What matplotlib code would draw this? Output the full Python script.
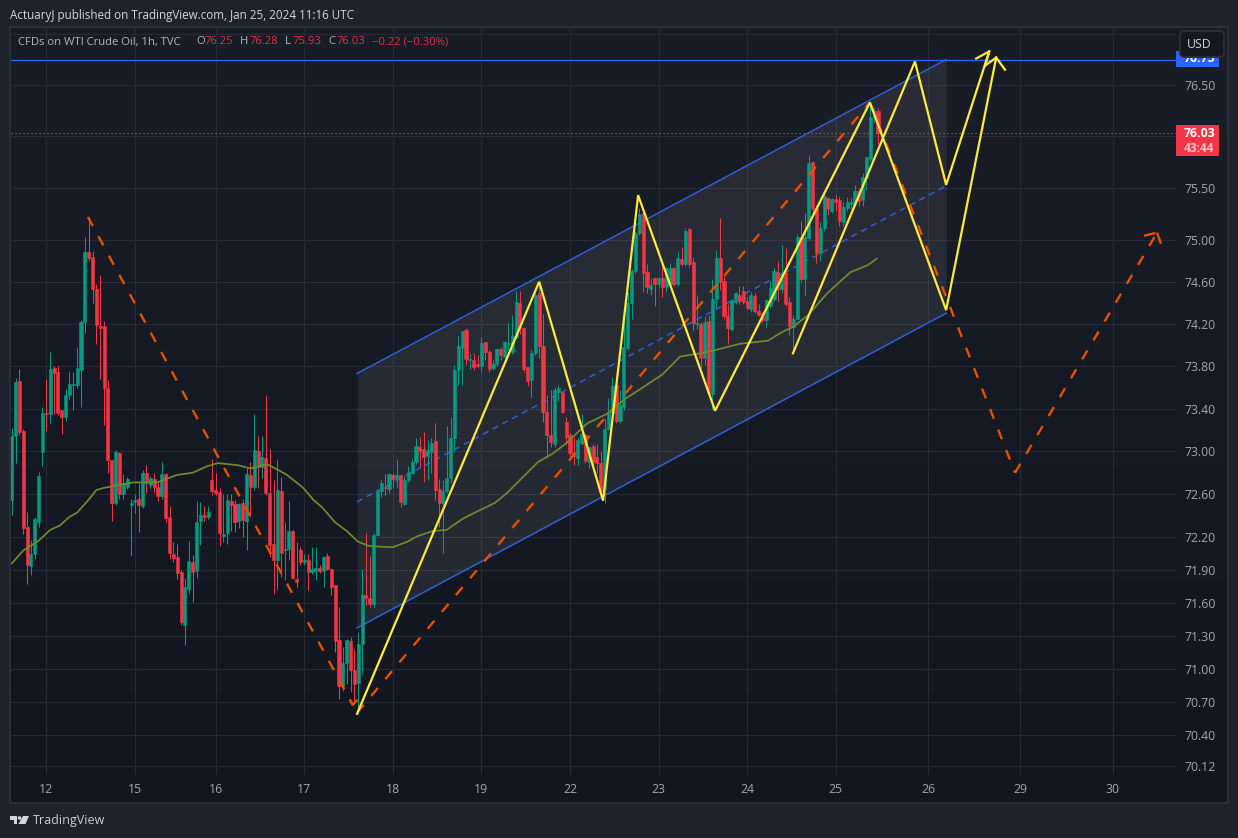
import numpy as np
import matplotlib
matplotlib.use("Agg")
import matplotlib.pyplot as plt
from matplotlib.patches import FancyBboxPatch, Rectangle, Polygon, Circle

W, H = 1238, 838
FONT = ["Open Sans", "DejaVu Sans"]
plt.rcParams["font.family"] = FONT

direction = ("GGRRRGGGGR" "GRRRGGGGGG" "RRRRRRRGRG" "GGGRGRGRRG" "RRRRRGGRGG"
             "RGRRRGGRRG" "RGRGRGRRRG" "RGGRRRGRGG" "RGRRRRGGRR" "GGRRGGGRGR"
             "GRGGGGRRGG" "RRGGGGGGRG" "RRGRRGGRGG" "GGRRRGGRRR" "RGGRRRRGGR"
             "GRRRGGGRGG" "GGGGRRGRGR" "GGRGRGRRGR" "GRGGRRRGGR" "RRGRRRGGGR"
             "GRRGGRGGRR" "GGRGRRGGGG" "RGGGGR")

highs = [
 73.22,73.69,73.77,73.21,72.44,72.18,72.39,72.81,73.41,73.68,
 73.93,73.80,73.80,73.39,73.58,73.75,73.74,73.98,74.24,75.03,
 75.22,74.89,74.58,74.66,74.23,73.67,72.92,73.01,72.99,72.79,
 72.76,72.56,72.60,72.70,72.83,72.87,72.77,72.80,72.71,72.90,
 72.80,72.49,72.16,72.14,71.90,71.83,72.17,72.04,72.54,72.53,
 72.49,72.49,72.93,72.80,72.66,72.60,72.60,72.60,72.55,72.52,
 72.56,72.84,72.90,73.35,73.14,73.14,73.53,73.02,72.73,72.93,
 72.76,72.34,72.54,72.27,72.16,72.11,72.05,72.05,72.11,72.11,
 71.95,72.03,72.06,71.92,71.76,71.56,71.20,71.27,71.29,71.18,
 71.33,71.91,72.24,72.03,72.24,72.65,72.73,72.79,72.80,72.80,
 72.93,72.78,72.77,72.86,72.93,73.12,73.13,73.18,73.11,73.12,
 73.26,72.74,72.73,73.24,73.32,73.81,74.08,74.13,74.16,73.91,
 73.92,73.90,74.07,74.03,73.95,73.86,73.97,73.98,74.04,74.21,
 74.28,74.51,74.51,74.17,73.79,73.95,74.49,74.58,74.29,73.53,
 73.57,73.60,73.62,73.56,73.32,73.17,73.13,73.12,73.35,73.17,
 73.04,73.07,73.07,72.99,73.30,73.50,73.70,73.64,73.57,74.28,
 74.50,74.72,75.09,75.31,75.28,74.77,74.64,74.64,74.64,74.75,
 74.74,74.78,74.74,74.88,74.93,75.11,75.11,74.83,74.47,74.22,
 74.27,74.28,74.63,74.90,75.21,74.65,74.39,74.44,74.50,74.56,
 74.56,74.45,74.50,74.49,74.39,74.31,74.44,74.61,74.73,74.80,
 74.95,74.92,74.45,74.28,75.06,75.18,75.26,75.82,75.76,75.34,
 75.17,75.45,75.41,75.40,75.43,75.41,75.36,75.41,75.40,75.53,
 75.50,75.64,75.80,76.33,76.28,76.28]
body_tops = [
 73.14,73.65,73.66,73.19,72.30,72.05,72.37,72.77,73.36,73.36,
 73.77,73.78,73.74,73.39,73.53,73.63,73.63,73.78,74.22,74.88,
 74.88,74.84,74.53,74.18,74.18,73.59,72.92,72.99,72.98,72.70,
 72.74,72.52,72.55,72.56,72.80,72.80,72.75,72.74,72.67,72.79,
 72.79,72.39,72.05,72.02,71.88,71.74,71.98,71.97,72.34,72.41,
 72.41,72.44,72.73,72.64,72.62,72.23,72.55,72.54,72.51,72.51,
 72.52,72.79,72.78,73.01,73.00,72.95,72.94,72.61,72.14,72.64,
 72.63,72.09,72.26,72.26,71.82,72.08,71.99,71.99,71.91,71.92,
 71.92,72.02,72.03,71.91,71.76,71.26,71.05,71.26,71.25,70.99,
 71.22,71.67,71.67,71.64,72.22,72.63,72.70,72.67,72.79,72.78,
 72.78,72.78,72.73,72.81,72.90,73.05,73.04,73.02,73.01,73.08,
 73.10,72.65,72.63,72.75,73.12,73.76,73.99,74.13,74.14,73.87,
 73.86,73.82,74.02,74.03,73.93,73.82,73.96,73.96,74.03,74.02,
 74.08,74.41,74.40,74.16,73.79,73.92,74.47,74.49,73.99,73.37,
 73.15,73.57,73.59,73.56,73.27,73.15,72.98,73.11,73.16,73.15,
 73.04,73.05,72.95,72.89,73.21,73.37,73.61,73.62,73.43,73.98,
 74.40,74.70,75.07,75.25,75.26,74.69,74.57,74.64,74.64,74.64,
 74.73,74.73,74.73,74.83,74.82,75.09,75.10,74.79,74.21,74.20,
 74.22,74.23,74.44,74.83,74.83,74.61,74.27,74.43,74.49,74.47,
 74.51,74.42,74.47,74.46,74.32,74.30,74.43,74.54,74.70,74.69,
 74.68,74.68,74.41,74.25,75.03,75.03,75.03,75.74,75.75,75.31,
 75.11,75.42,75.40,75.39,75.39,75.38,75.32,75.36,75.36,75.47,
 75.47,75.61,75.80,76.19,76.25,76.25]
body_bottoms = [
 72.55,73.14,73.18,72.29,71.95,71.94,72.05,72.34,72.99,73.35,
 73.35,73.73,73.36,73.32,73.32,73.53,73.62,73.62,73.76,74.22,
 74.83,74.53,74.19,74.16,73.59,72.92,72.52,72.52,72.60,72.60,
 72.67,72.50,72.53,72.50,72.49,72.70,72.69,72.67,72.58,72.58,
 72.38,72.06,72.01,71.87,71.42,71.40,71.73,71.88,71.89,72.35,
 72.39,72.39,72.63,72.61,72.24,72.21,72.24,72.50,72.34,72.35,
 72.36,72.35,72.67,72.67,72.85,72.85,72.61,72.13,71.99,71.99,
 72.06,72.08,72.09,71.83,71.79,71.97,71.97,71.88,71.88,71.89,
 71.89,71.89,71.91,71.74,71.25,70.84,70.84,71.05,70.99,70.86,
 70.87,71.22,71.64,71.59,71.59,72.22,72.63,72.66,72.65,72.74,
 72.74,72.53,72.51,72.73,72.80,72.90,73.00,72.95,72.96,72.99,
 72.64,72.52,72.52,72.63,72.75,73.12,73.76,73.97,73.87,73.86,
 73.79,73.80,73.80,73.93,73.77,73.78,73.82,73.90,73.89,74.01,
 73.93,74.07,74.16,73.77,73.66,73.67,73.92,73.99,73.37,73.15,
 73.09,73.07,73.56,73.37,73.13,72.98,72.96,72.94,73.08,72.91,
 72.90,72.90,72.89,72.62,72.65,73.21,73.36,73.28,73.28,73.41,
 73.97,74.40,74.70,75.07,74.68,74.55,74.53,74.58,74.58,74.55,
 74.55,74.58,74.58,74.58,74.77,74.77,74.77,74.21,74.20,73.88,
 73.88,73.55,73.54,74.44,74.60,74.27,74.16,74.15,74.41,74.42,
 74.41,74.35,74.34,74.32,74.28,74.24,74.24,74.37,74.44,74.53,
 74.53,74.39,74.18,74.17,74.25,74.63,74.63,75.02,75.30,74.87,
 74.87,75.11,75.30,75.28,75.36,75.18,75.17,75.31,75.35,75.35,
 75.37,75.38,75.60,75.78,76.19,76.03]
lows = [
 72.41,72.89,73.15,72.23,71.77,71.85,72.00,72.30,72.86,73.19,
 73.26,73.35,73.34,73.16,73.28,73.48,73.39,73.59,73.41,74.11,
 74.80,74.40,74.01,73.68,73.25,72.80,72.35,72.50,72.56,72.56,
 72.65,72.03,72.43,72.25,72.47,72.61,72.66,72.62,72.54,72.56,
 72.34,72.00,71.97,71.82,71.40,71.21,71.69,71.61,71.83,72.13,
 72.35,72.37,72.59,72.59,72.12,72.16,72.14,72.26,72.25,72.29,
 72.20,72.08,72.39,72.64,72.66,72.75,72.59,72.02,71.68,71.72,
 71.84,71.81,71.99,71.82,71.74,71.95,71.95,71.72,71.86,71.81,
 71.87,71.74,71.90,71.67,71.15,70.72,70.80,70.86,70.79,70.70,
 70.60,70.95,71.58,71.56,71.56,72.21,72.57,72.59,72.61,72.66,
 72.66,72.48,72.50,72.71,72.79,72.88,72.85,72.71,72.73,72.80,
 72.55,72.30,72.06,72.61,72.70,72.99,73.62,73.62,73.81,73.77,
 73.76,73.78,73.74,73.86,73.74,73.76,73.80,73.86,73.83,73.95,
 73.91,74.06,74.10,73.74,73.61,73.50,73.90,73.88,73.27,72.95,
 73.04,73.04,73.47,73.36,73.07,72.94,72.87,72.87,73.06,72.89,
 72.84,72.82,72.80,72.60,72.52,73.20,73.34,73.26,73.26,73.39,
 73.95,74.25,74.68,75.05,74.50,74.49,74.47,74.37,74.54,74.45,
 74.50,74.56,74.56,74.56,74.75,74.75,74.74,74.14,74.15,73.78,
 73.81,73.53,73.39,74.35,74.52,74.25,74.01,74.13,74.39,74.39,
 74.39,74.34,74.31,74.30,74.27,74.21,74.17,74.35,74.42,74.42,
 74.49,74.37,74.09,73.92,74.24,74.60,74.46,75.00,75.24,74.78,
 74.80,75.09,75.24,75.26,75.28,75.13,75.13,75.28,75.30,75.33,
 75.33,75.33,75.48,75.76,76.14,75.93]

ma_bars = [0,3,7,10,12.5,15,17,20,22,24,25.5,31.5,37.7,43,47,50.7,53.6,58.8,62,66.3,69,71.5,75.7,
           78.3,80.6,84,87,90,93,99,102.7,105.3,109.4,113,117,120.3,125.5,128.6,132.8,136.7,140.6,
           144.2,149.4,154.6,159.3,162.7,169,173.6,178.8,182.7,189,196.4,200,202.9,206.8,211.8,
           217.8,222.4,224.7]
ma_values = [71.96,72.08,72.17,72.27,72.31,72.39,72.43,72.55,72.64,72.66,72.67,72.71,72.71,72.78,72.80,
             72.86,72.89,72.87,72.84,72.88,72.83,72.78,72.66,72.55,72.48,72.34,72.26,72.16,72.12,72.11,
             72.16,72.21,72.26,72.27,72.37,72.43,72.52,72.61,72.76,72.90,72.98,73.08,73.26,73.35,73.49,
             73.57,73.72,73.89,73.92,73.95,74.01,74.04,74.12,74.17,74.28,74.49,74.69,74.76,74.82]

channel_bars = [89.7, 242.7]
channel_upper = [73.73, 76.75]
channel_mid = [72.53, 75.52]
channel_lower = [71.37, 74.30]

yellow_a_bars = [89.7,137,153.6,162.7,182.7,222.9,242.7,255.7]
yellow_a_vals = [70.59,74.60,72.54,75.43,73.38,76.33,74.33,76.77]
yellow_a_head_bars = [252.8,255.7,258]
yellow_a_head_vals = [76.69,76.77,76.65]
yellow_b_bars = [202.9,234.6,242.7,253.9]
yellow_b_vals = [73.92,76.73,75.53,76.83]
yellow_b_head_bars = [250.5,253.9,252.8]
yellow_b_head_vals = [76.76,76.83,76.69]

orange_segments = [
    ([19.8,88.6],[75.22,70.67]),
    ([89.7,222.9],[70.60,76.33]),
    ([222.9,260.6],[76.33,72.80]),
    ([260.6,297.5],[72.80,75.07]),
]
orange_head1_bars = [87.9,88.6,89.6]
orange_head1_vals = [70.71,70.67,70.71]
orange_head2_bars = [294.1,297.5,298.8]
orange_head2_vals = [75.04,75.07,74.93]

hline_price = 76.75
last_price = 76.03

y_ticks = [70.12,70.40,70.70,71.00,71.30,71.60,71.90,72.20,72.60,73.00,73.40,73.80,74.20,74.60,75.00,75.50,76.00,76.50,77.00]
hidden_y = [76.00,77.00]
day_ticks = [9,32,53,76,99,122,145,168,191,214,238,262,286]
day_labels = ["12","15","16","17","18","19","22","23","24","25","26","29","30"]

BG_FIG = "#1e222d"
GREEN = "#089981"
RED = "#f23645"
YELLOW = "#ffeb3b"
ORANGE = "#e65100"
BLUE = "#2962ff"
CHAN = "#2f5fd0"
OLIVE = "#6e8b2f"
GRID = "#262a35"
TXT = "#a3a6af"

fig = plt.figure(figsize=(W/100, H/100), dpi=100, facecolor=BG_FIG)

def px_axes(l, t, r, b):
    return [l/W, 1-b/H, (r-l)/W, (b-t)/H]

# chart background with the faint vertical gradient of the dark theme
bg = fig.add_axes(px_axes(10, 27, 1228, 803), zorder=0)
grad = np.linspace(0, 1, 256)[:, None]
c_top = np.array([0x19, 0x1d, 0x28]) / 255
c_bot = np.array([0x12, 0x16, 0x20]) / 255
bg.imshow(c_top + (c_bot - c_top) * grad[..., None], aspect="auto", extent=(0, 1, 0, 1))
bg.set_xticks([]); bg.set_yticks([])
for s in bg.spines.values():
    s.set_color("#2a2e39"); s.set_linewidth(1.5)

ax = fig.add_axes(px_axes(11, 27, 1176, 775), zorder=1)
ax.patch.set_alpha(0)
ax.set_yscale("log")
ax.set_xlim(-0.18, 302.4)
ax.set_ylim(70.04, 77.07)
for s in ax.spines.values():
    s.set_visible(False)

ax.set_xticks(day_ticks)
ax.set_xticklabels(day_labels)
ax.set_yticks(y_ticks)
ax.set_yticklabels(["" if v in hidden_y else f"{v:.2f}" for v in y_ticks])
ax.minorticks_off()
ax.yaxis.tick_right()
ax.tick_params(axis="both", length=0, colors=TXT, labelsize=8.8)
ax.tick_params(axis="y", pad=5.8)
ax.tick_params(axis="x", pad=6)
ax.grid(True, color=GRID, lw=0.8, zorder=0)
ax.set_axisbelow(True)

# channel
ax.fill_between(channel_bars, channel_lower, channel_upper, color="white", alpha=0.075, lw=0, zorder=1)
ax.plot(channel_bars, channel_upper, color=CHAN, lw=1.1, zorder=2)
ax.plot(channel_bars, channel_lower, color=CHAN, lw=1.1, zorder=2)
ax.plot(channel_bars, channel_mid, color=CHAN, lw=1.1, ls=(0, (4, 3.2)), zorder=2)

# candles
bars = np.arange(len(highs))
is_up = np.array([c == "G" for c in direction])
cols = np.where(is_up, GREEN, RED)
ax.vlines(bars, lows, highs, colors=cols, lw=0.75, zorder=3)
ax.bar(bars, np.array(body_tops) - np.array(body_bottoms), bottom=body_bottoms, width=0.8,
       color=cols, edgecolor=cols, linewidth=0.4, zorder=3)

# moving average
ax.plot(ma_bars, ma_values, color=OLIVE, lw=1.25, zorder=4)

# horizontal lines
ax.axhline(hline_price, color=BLUE, lw=0.95, zorder=5)
ax.axhline(last_price, color=RED, lw=0.8, ls=(0, (1.2, 2.4)), zorder=4)

# orange dashed path
for xs, ys in orange_segments:
    ax.plot(xs, ys, color=ORANGE, lw=1.7, ls=(0, (4.4, 4.9)), dash_capstyle="butt", zorder=5)
ax.plot(orange_head1_bars, orange_head1_vals, color=ORANGE, lw=1.7, zorder=5)
ax.plot(orange_head2_bars[:2], orange_head2_vals[:2], color=ORANGE, lw=1.7, ls=(0, (5, 3)), zorder=5)
ax.plot(orange_head2_bars[1:], orange_head2_vals[1:], color=ORANGE, lw=1.7, ls=(0, (5, 3)), zorder=5)

# yellow paths
ax.plot(yellow_a_bars, yellow_a_vals, color=YELLOW, lw=1.6, solid_joinstyle="miter", zorder=6)
ax.plot(yellow_a_head_bars, yellow_a_head_vals, color=YELLOW, lw=1.6, zorder=6)
ax.plot(yellow_b_bars, yellow_b_vals, color=YELLOW, lw=1.6, solid_joinstyle="miter", zorder=6)
ax.plot(yellow_b_head_bars, yellow_b_head_vals, color=YELLOW, lw=1.6, zorder=6)

# overlay for TradingView chrome
ov = fig.add_axes([0, 0, 1, 1], zorder=3)
ov.set_xlim(0, W); ov.set_ylim(H, 0); ov.axis("off"); ov.patch.set_alpha(0)

# price labels
ov.add_patch(Rectangle((1176, 51), 43, 16, color=BLUE, lw=0, zorder=2))
ov.text(1184, 59, f"{hline_price:.2f}", color="white", fontsize=8.8, va="center", ha="left", weight="bold", zorder=3)
ov.add_patch(Rectangle((1176, 125), 43, 31, color=RED, lw=0, zorder=2))
ov.text(1184, 133.5, f"{last_price:.2f}", color="white", fontsize=8.8, va="center", ha="left", weight="bold", zorder=3)
ov.text(1184, 148, "43:44", color="#fbc5ca", fontsize=8.6, va="center", ha="left", weight="bold", zorder=3)
ov.add_patch(FancyBboxPatch((1180, 31), 44, 26, boxstyle="round,pad=0,rounding_size=5", mutation_aspect=1,
                            fc="#141822", ec="#2a2e39", lw=1.5, zorder=4))
ov.text(1199.5, 44.5, "USD", color="#d1d4dc", fontsize=8.8, va="center", ha="center", zorder=5)

# header
ov.text(10, 15, "ActuaryJ published on TradingView.com, Jan 25, 2024 11:16 UTC",
        color="#d1d4dc", fontsize=8.4, va="center", ha="left")
DIM = "#b2b5be"
RD = "#e0303f"
legend = [(18, "CFDs on WTI Crude Oil, 1h, TVC", DIM), (196, "O", DIM), (204, "76.25", RD), (240, "H", DIM),
          (249, "76.28", RD), (285, "L", DIM), (292, "75.93", RD), (328, "C", DIM), (336, "76.03", RD),
          (372, "−0.22 (−0.30%)", RD)]
for x, s, c in legend:
    ov.text(x, 42, s, color=c, fontsize=8.1, va="center", ha="left")

# logo + wordmark
ov.add_patch(Polygon([(10, 816), (17, 816), (17, 824), (13.5, 824), (13.5, 819.5), (10, 819.5)], color="#d1d4dc", lw=0))
ov.add_patch(Circle((19.5, 818), 1.8, color="#d1d4dc", lw=0))
ov.add_patch(Polygon([(23, 816), (29, 816), (25.5, 824), (18.5, 824)], color="#d1d4dc", lw=0))
ov.text(33, 820.5, "TradingView", color="#c8cbd3", fontsize=9, va="center", ha="left")

fig.savefig("out.png", dpi=100, facecolor=BG_FIG)
